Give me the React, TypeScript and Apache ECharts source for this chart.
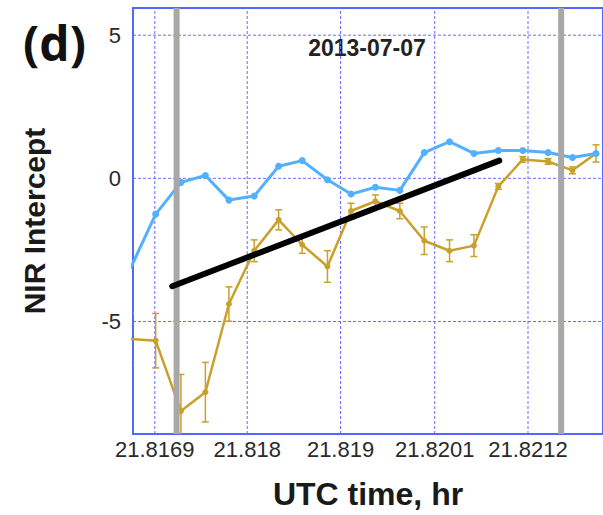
import React, { useEffect, useRef } from 'react';
import * as echarts from 'echarts';

// Sample times (UTC hours) shared by both intercept series
const utcHours = [
  21.81662, 21.81691, 21.8172, 21.81748, 21.81775, 21.81804, 21.81832, 21.81859, 21.81888, 21.81915,
  21.81943, 21.81971, 21.81999, 21.82028, 21.82056, 21.82084, 21.82112, 21.82141, 21.82169, 21.82196,
];
// Blue series: NIR intercept
const blueIntercept = [
  -3.15, -1.25, -0.14, 0.1, -0.76, -0.62, 0.42, 0.62, -0.05, -0.55,
  -0.31, -0.42, 0.9, 1.28, 0.87, 0.97, 0.97, 0.9, 0.73, 0.87,
];
// Gold series: NIR intercept with its uncertainty
const goldIntercept = [
  -5.61, -5.67, -8.13, -7.47, -4.39, -2.53, -1.45, -2.32, -3.08, -1.14,
  -0.8, -1.14, -2.18, -2.53, -2.35, -0.28, 0.66, 0.59, 0.28, 0.87,
];
const goldError = [
  0.9, 0.95, 1.28, 1.04, 0.6, 0.38, 0.35, 0.3, 0.55, 0.27,
  0.22, 0.27, 0.48, 0.38, 0.38, 0.1, 0.1, 0.1, 0.12, 0.3,
];
// Linear trend drawn in black
const trendStart = [21.8171, -3.77];
const trendEnd = [21.82085, 0.62];
// Gray vertical markers
const grayMarkers = [21.81715, 21.82156];
// Axis ticks
const xTicks = [21.8169, 21.81796, 21.81903, 21.82011, 21.82118];
const yTicks = [-5, 0, 5];

const X_MIN = 21.81665;
const X_MAX = 21.82204;
const Y_MIN = -8.93;
const Y_MAX = 5.95;

const BLUE = '#52b0ff';
const GOLD = '#c9a02a';
const GRID_BLUE = '#6a6aff';
const FRAME_BLUE = '#5068ff';

export default function App() {
  const ref = useRef<HTMLDivElement>(null);

  useEffect(() => {
    const chart = echarts.init(ref.current!, null, { renderer: 'svg' });

    // full-height vertical line at an x value
    const verticalLine = (style: any) => (params: any, api: any) => {
      const x = api.value(0);
      const a = api.coord([x, Y_MIN]);
      const b = api.coord([x, Y_MAX]);
      return { type: 'line', shape: { x1: a[0], y1: a[1], x2: b[0], y2: b[1] }, style };
    };
    // full-width horizontal line at a y value
    const horizontalLine = (style: any) => (params: any, api: any) => {
      const y = api.value(0);
      const a = api.coord([X_MIN, y]);
      const b = api.coord([X_MAX, y]);
      return { type: 'line', shape: { x1: a[0], y1: a[1], x2: b[0], y2: b[1] }, style };
    };

    const gridStyle = { stroke: GRID_BLUE, lineWidth: 1, lineDash: [3, 2] };

    const option: any = {
      animation: false,
      backgroundColor: '#ffffff',
      grid: {
        left: 133,
        top: 8,
        right: -7,
        bottom: 77,
        show: true,
        borderColor: FRAME_BLUE,
        borderWidth: 2,
        backgroundColor: '#ffffff',
      },
      xAxis: {
        type: 'value',
        min: X_MIN,
        max: X_MAX,
        axisLine: { show: false },
        axisTick: { show: false },
        splitLine: { show: false },
        axisLabel: {
          customValues: xTicks,
          margin: 4,
          fontFamily: 'Liberation Sans',
          fontSize: 22,
          color: '#2a2a2a',
          formatter: (v: number) => Number(v).toFixed(4).replace(/0+$/, ''),
        },
        name: 'UTC time, hr',
        nameLocation: 'middle',
        nameGap: 44,
        nameTextStyle: {
          fontFamily: 'Liberation Sans',
          fontWeight: 'bold',
          fontSize: 32,
          color: '#1a1a1a',
        },
      },
      yAxis: {
        type: 'value',
        min: Y_MIN,
        max: Y_MAX,
        axisLine: { show: false },
        axisTick: { show: false },
        splitLine: { show: false },
        axisLabel: {
          customValues: yTicks,
          margin: 12,
          fontFamily: 'Liberation Sans',
          fontSize: 22,
          color: '#2a2a2a',
        },
        name: 'NIR Intercept',
        nameLocation: 'middle',
        nameGap: 84,
        nameTextStyle: {
          fontFamily: 'Liberation Sans',
          fontWeight: 'bold',
          fontSize: 30,
          color: '#1a1a1a',
        },
      },
      graphic: [
        {
          type: 'text',
          left: 23,
          top: 18,
          style: {
            text: '(d)',
            fontFamily: 'Open Sans',
            fontWeight: 'bold',
            fontSize: 48,
            fill: '#111111',
          },
        },
        {
          type: 'text',
          x: 367,
          y: 48,
          style: {
            text: '2013-07-07',
            fontFamily: 'Liberation Sans',
            fontWeight: 'bold',
            fontSize: 23,
            fill: '#222222',
            textAlign: 'center',
            textVerticalAlign: 'middle',
          },
        },
      ],
      series: [
        {
          type: 'custom',
          z: 1,
          silent: true,
          data: xTicks.map((v) => [v]),
          encode: { x: 0 },
          renderItem: verticalLine(gridStyle),
        },
        {
          type: 'custom',
          z: 1,
          silent: true,
          data: yTicks.map((v) => [v]),
          encode: { y: 0 },
          renderItem: horizontalLine(gridStyle),
        },
        {
          type: 'custom',
          z: 3,
          clip: true,
          silent: true,
          data: utcHours.map((t, i) => [t, goldIntercept[i], goldError[i]]),
          encode: { x: 0, y: 1 },
          renderItem: (params: any, api: any) => {
            const x = api.value(0);
            const v = api.value(1);
            const e = api.value(2);
            const p1 = api.coord([x, v + e]);
            const p2 = api.coord([x, v - e]);
            const cw = 3.5;
            const style = { stroke: GOLD, lineWidth: 1.5 };
            return {
              type: 'group',
              children: [
                { type: 'line', shape: { x1: p1[0], y1: p1[1], x2: p2[0], y2: p2[1] }, style },
                { type: 'line', shape: { x1: p1[0] - cw, y1: p1[1], x2: p1[0] + cw, y2: p1[1] }, style },
                { type: 'line', shape: { x1: p2[0] - cw, y1: p2[1], x2: p2[0] + cw, y2: p2[1] }, style },
              ],
            };
          },
        },
        {
          type: 'line',
          z: 4,
          clip: true,
          data: utcHours.map((t, i) => [t, goldIntercept[i]]),
          symbol: 'circle',
          symbolSize: 6,
          lineStyle: { color: GOLD, width: 2.5 },
          itemStyle: { color: GOLD },
        },
        {
          type: 'line',
          z: 4,
          clip: true,
          data: utcHours.map((t, i) => [t, blueIntercept[i]]),
          symbol: 'circle',
          symbolSize: 7,
          lineStyle: { color: BLUE, width: 3 },
          itemStyle: { color: BLUE },
        },
        {
          type: 'custom',
          z: 5,
          silent: true,
          data: grayMarkers.map((v) => [v]),
          encode: { x: 0 },
          renderItem: verticalLine({ stroke: '#a8a8a8', lineWidth: 6 }),
        },
        {
          type: 'line',
          z: 6,
          data: [trendStart, trendEnd],
          symbol: 'none',
          lineStyle: { color: '#000000', width: 6, cap: 'round' },
        },
      ],
    };

    chart.setOption(option);
    return () => chart.dispose();
  }, []);

  return (
    <div
      ref={ref}
      style={{ position: 'absolute', left: 0, top: 0, width: 603, height: 515, background: '#ffffff' }}
    />
  );
}
